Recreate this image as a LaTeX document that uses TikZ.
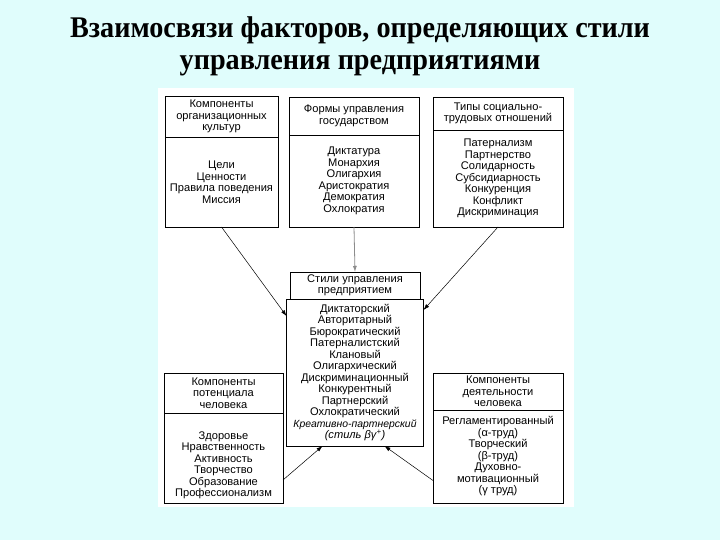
\documentclass[tikz,border=0pt]{standalone}
\usepackage{fontspec}
\setmainfont{Liberation Sans}
\newfontfamily\TitleFont{Liberation Serif}
\usetikzlibrary{arrows.meta,positioning}
\definecolor{slidebg}{RGB}{224,253,252}
\definecolor{arrgray}{RGB}{140,140,140}
\newcommand{\ArrTip}{Latex[length=6,width=4]}
\tikzset{box/.style={draw,line width=.7pt,align=center,inner sep=0pt,outer sep=0pt,font=\fontsize{11.1}{11.5}\selectfont}}
\tikzset{->-/.style={-{\ArrTip},line width=.5pt}}

\begin{document}
\begin{tikzpicture}[x=1pt,y=-1pt]
\fill[slidebg](0,0)rectangle(720,540);\useasboundingbox(0,0)rectangle(720,540);
\fill[white](158,88)rectangle(574,507);
\begin{scope}[font=\TitleFont\bfseries\fontsize{30}{32}\selectfont,xscale=.94]
\node(ttl1)[anchor=base,transform shape]at(383,38){Взаимосвязи факторов, определяющих стили};
\node(ttl2)[anchor=base,transform shape]at(383,70){управления предприятиями};
\end{scope}
% top row
\node(tlh)[box,minimum width=113,minimum height=41]at(221.5,116.5){Компоненты\\организационных\\культур};
\node(tlb)[box,minimum width=113,minimum height=90,below=0pt of tlh]{Цели\\Ценности\\Правила поведения\\Миссия};
\node(tmh)[box,minimum width=130,minimum height=38]at(354,116){Формы управления\\государством};
\node(tmb)[box,minimum width=130,minimum height=92,below=0pt of tmh]{Диктатура\\Монархия\\Олигархия\\Аристократия\\Демократия\\Охлократия};
\node(trh)[box,minimum width=130,minimum height=33]at(498,113.5){Типы социально-\\трудовых отношений};
\node(trb)[box,minimum width=130,minimum height=97,below=0pt of trh]{Патернализм\\Партнерство\\Солидарность\\Субсидиарность\\Конкуренция\\Конфликт\\Дискриминация};
% center
\node(ch)[box,minimum width=130,minimum height=27]at(355,285.5){Стили управления\\предприятием};
\node(cb)[box,minimum width=137,minimum height=147,below=0pt of ch]{Диктаторский\\Авторитарный\\Бюрократический\\Патерналистский\\Клановый\\Олигархический\\Дискриминационный\\Конкурентный\\Партнерский\\Охлократический\\{\fontsize{10.4}{11.5}\selectfont\itshape Креативно-партнерский}\\\textit{(стиль βγ\textsuperscript{+})}};
% bottom row
\node(blh)[box,minimum width=119,minimum height=40]at(223.5,393){Компоненты\\потенциала\\человека};
\node(blb)[box,minimum width=119,minimum height=90,below=0pt of blh]{\rule{0pt}{22pt}Здоровье\\Нравственность\\Активность\\Творчество\\Образование\\Профессионализм};
\node(brh)[box,minimum width=130,minimum height=37]at(498,391.5){Компоненты\\деятельности\\человека};
\node(brb)[box,minimum width=130,minimum height=93,below=0pt of brh]{Регламентированный\\(α-труд)\\Творческий\\(β-труд)\\Духовно-\\мотивационный\\(γ труд)};
% arrows
\draw[->-](tlb.south)--([yshift=-17pt]cb.north west);
\draw[->-,arrgray,line width=.8pt](tmb.south)--(ch.north);
\draw[->-](trb.south)--([yshift=-11pt]cb.north east);
\draw[->-]([yshift=-22pt]blb.east)--([xshift=36pt]cb.south west);
\draw[->-]([yshift=-24pt]brb.west)--([xshift=-39pt]cb.south east);
\end{tikzpicture}
\end{document}
